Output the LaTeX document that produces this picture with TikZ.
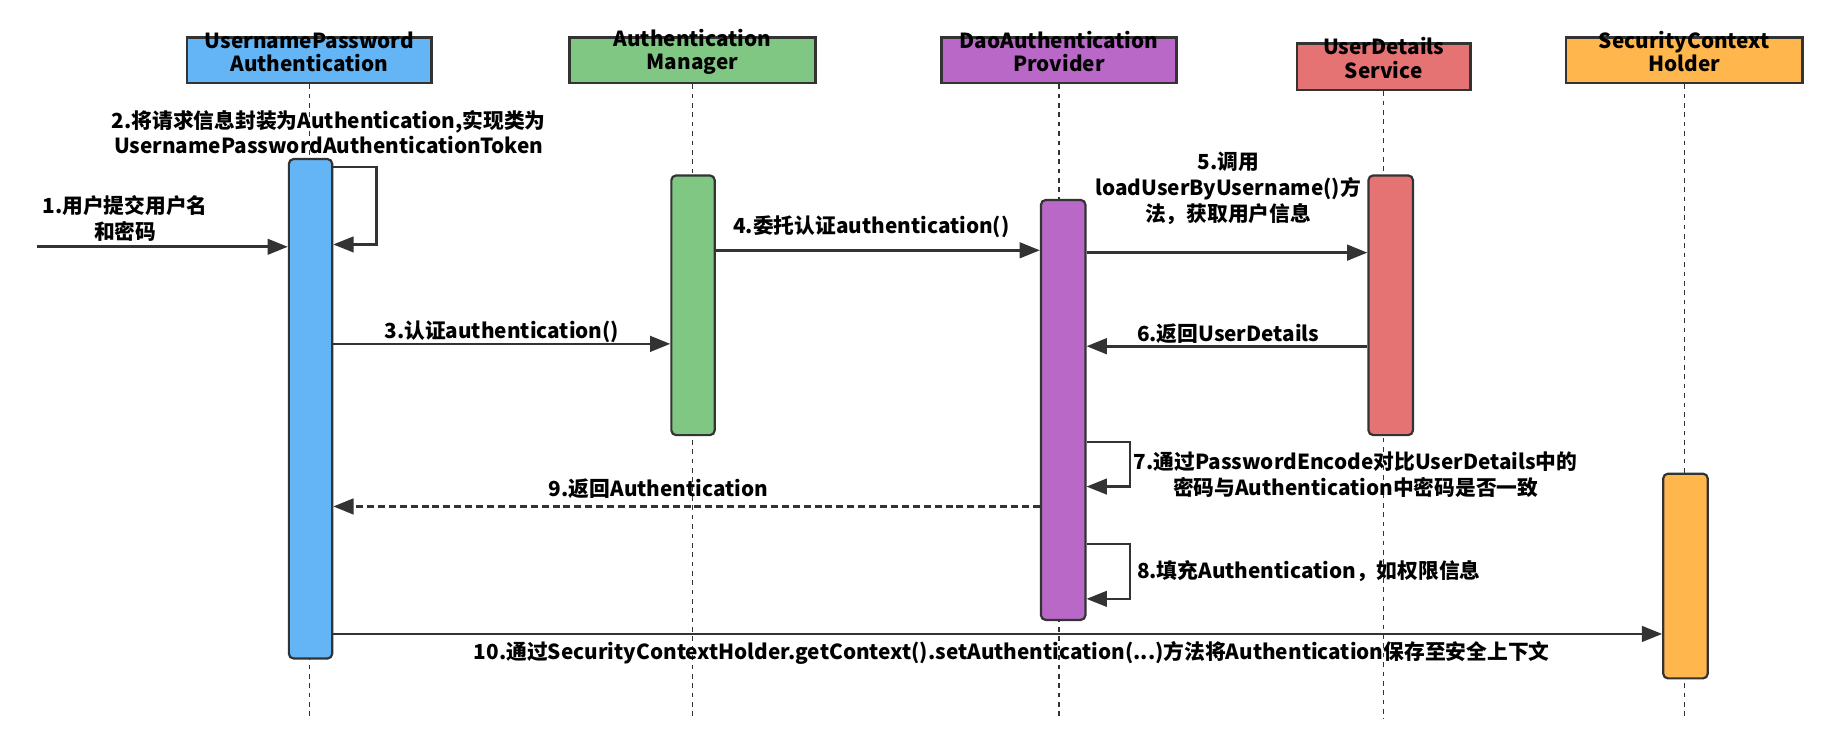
\documentclass[tikz,border=0pt]{standalone}
\usepackage{fontspec}
\setmainfont{Noto Sans CJK SC}
\usetikzlibrary{arrows.meta,fit}
\definecolor{lineC}{HTML}{333333}
\definecolor{blueC}{HTML}{64B5F6}
\definecolor{greenC}{HTML}{81C784}
\definecolor{purpleC}{HTML}{BA68C8}
\definecolor{redC}{HTML}{E57373}
\definecolor{orangeC}{HTML}{FFB74D}
\newcommand{\lblfont}{\bfseries\fontsize{13.3}{16.5}\selectfont}
\newcommand{\headfont}{\bfseries\fontsize{13.3}{15}\selectfont}
\tikzset{
  head/.style={draw=lineC, line width=1.7pt, inner sep=0pt, align=center, font=\headfont},
  bar/.style={draw=lineC, line width=1.4pt, rounded corners=3pt, inner sep=0pt},
  life/.style={draw=lineC, line width=1pt, dash pattern=on 3pt off 3pt},
  msg/.style={draw=lineC, line width=1.7pt, -{Triangle[length=13pt,width=10pt]}},
  reply/.style={msg, dash pattern=on 4.5pt off 2.5pt},
  lbl/.style={align=center, inner sep=0pt, font=\lblfont}
}
\begin{document}
\begin{tikzpicture}[x=0.75pt,y=0.75pt,yscale=-1,xscale=1]
\useasboundingbox (0,0) rectangle (1568,645);

%Shape: Header boxes
\node[head, fill=blueC, fit={(160,32) (369,71)}] (hToken) {UsernamePassword\\Authentication};
\node[head, fill=greenC, fit={(487,32) (697,71)}] (hManager) {Authentication\\Manager};
\node[head, fill=purpleC, fit={(805,32) (1006,71)}] (hProvider) {DaoAuthentication\\Provider};
\node[head, fill=redC, fit={(1109,37) (1257,77)}] (hService) {UserDetails\\Service};
\node[head, fill=orangeC, fit={(1339,32) (1541,71)}] (hHolder) {SecurityContext\\Holder};

%Straight Lines: lifelines
\foreach \h in {hToken,hManager,hProvider,hService,hHolder}
  \draw[life] (\h.south) -- (\h.south |- 0,615);

%Shape: Activation bars
\node[bar, fill=blueC, fit={(247,136) (284,563)}] (bToken) {};
\node[bar, fill=greenC, fit={(574,150) (611,372)}] (bManager) {};
\node[bar, fill=purpleC, fit={(890,171) (928,530)}] (bProvider) {};
\node[bar, fill=redC, fit={(1170,150) (1208,372)}] (bService) {};
\node[bar, fill=orangeC, fit={(1422,405) (1460,580)}] (bHolder) {};

%Straight Lines: messages
\coordinate (user) at (32,211);
\draw[msg] (user) -- (bToken.west |- user);
\draw[msg, line width=1.4pt] (bToken.east |- 0,143) -- ++(37,0) |- (bToken.east |- 0,209);
\draw[msg] (bToken.east |- 0,294) -- (bManager.west |- 0,294);
\draw[msg] (bManager.east |- 0,214) -- (bProvider.west |- 0,214);
\draw[msg] (bProvider.east |- 0,216) -- (bService.west |- 0,216);
\draw[msg] (bService.west |- 0,296) -- (bProvider.east |- 0,296);
\draw[msg, line width=1.4pt] (bProvider.east |- 0,378) -- ++(37,0) |- (bProvider.east |- 0,416);
\draw[reply] (bProvider.west |- 0,433) -- (bToken.east |- 0,433);
\draw[msg, line width=1.4pt] (bProvider.east |- 0,465) -- ++(37,0) |- (bProvider.east |- 0,512);
\draw[msg] (bToken.east |- 0,542) -- (bHolder.west |- 0,542);

% Text Node
\node[lbl] (t1) at (107,187) {1.用户提交用户名\\和密码};
\node[lbl] (t2) at (281,113) {2.将请求信息封装为Authentication,实现类为\\UsernamePasswordAuthenticationToken};
\node[lbl] (t3) at (429,284) {3.认证authentication()};
\node[lbl] (t4) at (745,194) {4.委托认证authentication()};
\node[lbl] (t5) at (1050,161) {5.调用\\loadUserByUsername()方\\法，获取用户信息};
\node[lbl] (t6) at (1050,285) {6.返回UserDetails};
\node[lbl] (t7) at (1159,406) {7.通过PasswordEncode对比UserDetails中的\\密码与Authentication中密码是否一致};
\node[lbl] (t9) at (563,418) {9.返回Authentication};
\node[lbl] (t8) at (1119,488) {8.填充Authentication，如权限信息};
\node[lbl] (t10) at (865,558) {10.通过SecurityContextHolder.getContext().setAuthentication(...)方法将Authentication保存至安全上下文};

\end{tikzpicture}
\end{document}
